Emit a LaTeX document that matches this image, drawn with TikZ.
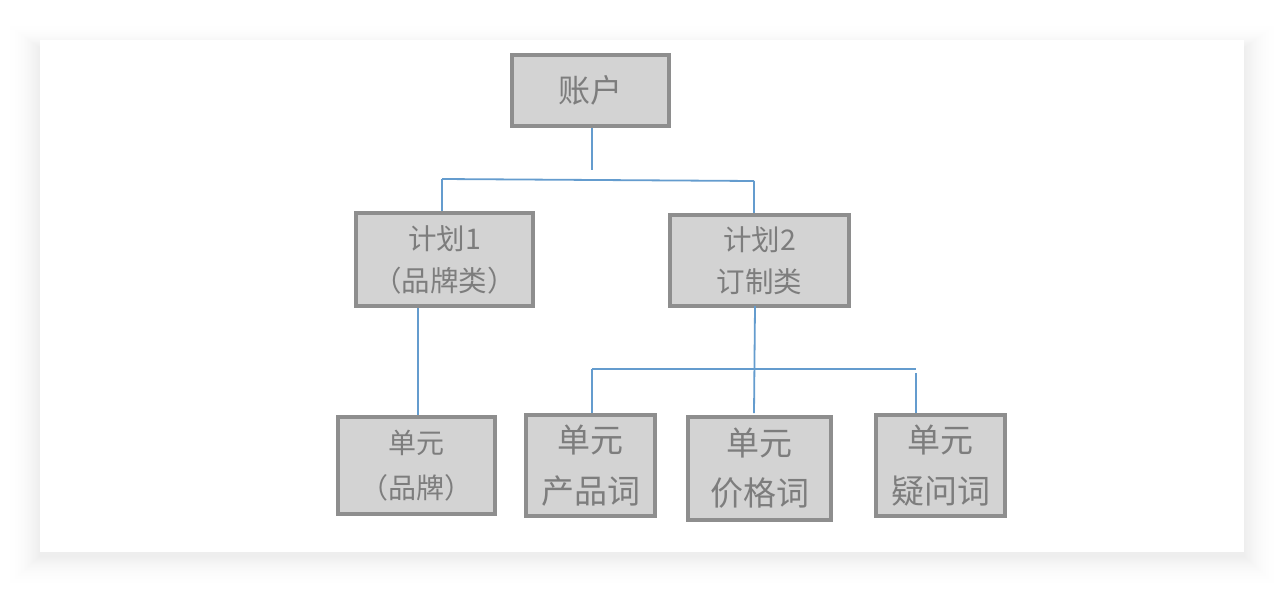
\documentclass[tikz,border=0pt]{standalone}
\usepackage{fontspec}
\newfontfamily\cjk{Noto Sans CJK SC}
\definecolor{boxfill}{RGB}{211,211,211}
\definecolor{boxline}{RGB}{142,142,142}
\definecolor{txt}{RGB}{125,125,125}
\definecolor{conn}{RGB}{100,156,206}
\tikzset{
  box/.style={draw=boxline, line width=4pt, fill=boxfill, text=txt, align=center, inner sep=0pt},
  topfont/.style={font=\cjk\fontsize{32}{36}\selectfont},
  midfont/.style={font=\cjk\fontsize{28.5}{42}\selectfont},
  botfont/.style={font=\cjk\fontsize{33}{51}\selectfont},
  link/.style={draw=conn, line width=1.8pt}
}
\begin{document}
\begin{tikzpicture}[x=1pt,y=-1pt]
\useasboundingbox (0,0) rectangle (1284,592);
\fill[white] (0,0) rectangle (1284,592);
% shadow: nested rectangles, light outside, darker near the card
\foreach \i in {32,31,...,1}{
  \pgfmathsetmacro{\shade}{7*(1-\i/32)*(1-\i/32)}
  \fill[black!\shade] (40-1.1*\i,40-0.8*\i+8) rectangle (1244+1.1*\i,552+\i+4);
}
\fill[white] (40,40) rectangle (1244,552);

\node[box, topfont, minimum width=157pt, minimum height=71pt] (a) at (590.5,90.5) {账户};
\node[box, midfont, minimum width=177pt, minimum height=93pt] (p1) at (444.5,259.5) {计划1\\（品牌类）};
\node[box, midfont, minimum width=179pt, minimum height=91pt] (p2) at (759.5,260.5) {计划2\\订制类};
\node[box, minimum width=157pt, minimum height=97pt, font=\cjk\fontsize{28}{45}\selectfont] (u1) at (416.5,465.5) {单元\\（品牌）};
\node[box, botfont, minimum width=129pt, minimum height=101pt] (u2) at (590.5,465.5) {单元\\产品词};
\node[box, minimum width=143pt, minimum height=103pt, font=\cjk\fontsize{33}{50}\selectfont] (u3) at (759.5,468.5) {单元\\价格词};
\node[box, botfont, minimum width=129pt, minimum height=101pt] (u4) at (940.5,465.5) {单元\\疑问词};

\coordinate (j1) at (592,170);
\coordinate (bl) at (442,179);
\coordinate (br) at (754,181);
\coordinate (c1) at (418,360);
\coordinate (c2t) at (755,306);
\coordinate (c2b) at (754,413);
\coordinate (dl) at (592,369);
\coordinate (dr) at (916,369);
\coordinate (dr2) at (916,373);

\draw[link] (a.south -| j1) -- (j1);
\draw[link] (bl) -- (br);
\draw[link] (bl) -- (bl |- p1.north);
\draw[link] (br) -- (br |- p2.north);
\draw[link] (p1.south -| c1) -- (u1.north -| c1);
\draw[link] (c2t) -- (c2b);
\draw[link] (dl) -- (dr);
\draw[link] (dl) -- (dl |- u2.north);
\draw[link] (dr2) -- (dr2 |- u4.north);
\end{tikzpicture}
\end{document}
